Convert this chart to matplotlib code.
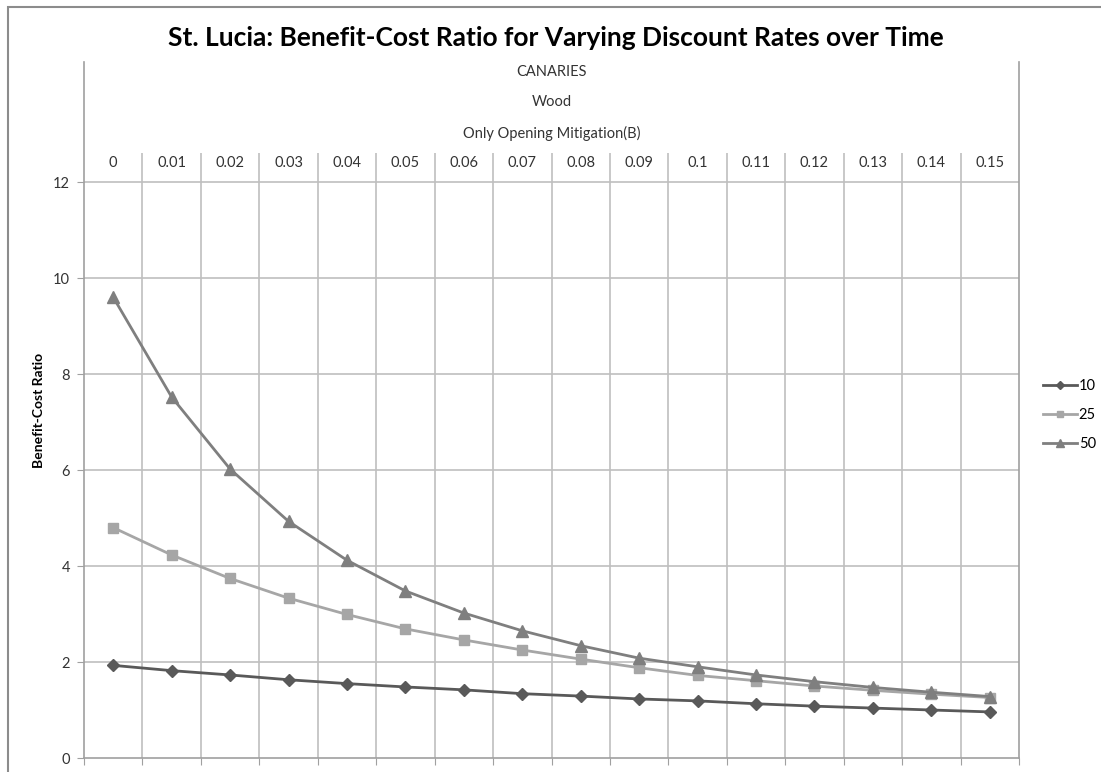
import matplotlib
matplotlib.use("Agg")
import matplotlib.pyplot as plt
from matplotlib.patches import Rectangle
import numpy as np

plt.rcParams['font.family'] = ['Lato', 'DejaVu Sans']

# discount rates (categories) and benefit-cost ratios per time horizon (years)
rates = ["0", "0.01", "0.02", "0.03", "0.04", "0.05", "0.06", "0.07",
         "0.08", "0.09", "0.1", "0.11", "0.12", "0.13", "0.14", "0.15"]
bcr_10 = [1.93, 1.82, 1.73, 1.63, 1.55, 1.48, 1.42, 1.34,
          1.29, 1.23, 1.19, 1.13, 1.08, 1.04, 1.00, 0.96]
bcr_25 = [4.80, 4.23, 3.74, 3.33, 2.99, 2.69, 2.46, 2.25,
          2.06, 1.88, 1.72, 1.61, 1.50, 1.41, 1.33, 1.26]
bcr_50 = [9.60, 7.52, 6.02, 4.93, 4.12, 3.48, 3.02, 2.65,
          2.34, 2.08, 1.90, 1.73, 1.59, 1.47, 1.37, 1.28]
series = [("10", bcr_10, "#595959", "D", 6.0),
          ("25", bcr_25, "#A6A6A6", "s", 7.0),
          ("50", bcr_50, "#7F7F7F", "^", 8.0)]
header_lines = ["CANARIES", "Wood", "Only Opening Mitigation(B)"]

W, H = 1101, 772
fig = plt.figure(figsize=(W / 100, H / 100), dpi=100)
fig.patches.append(Rectangle((8 / W, -0.1), 1.2, 1 - 7 / H + 0.1,
                             transform=fig.transFigure, fill=False,
                             edgecolor="#8C8C8C", linewidth=1.5))

x0, x1, ytop, ybot = 84, 1019, 62, 758
ax = fig.add_axes([x0 / W, 1 - ybot / H, (x1 - x0) / W, (ybot - ytop) / H])
n = len(rates)
ymax = 14.5
ax.set_xlim(0, n)
ax.set_ylim(0, ymax)

grid_c = "#BFBFBF"
ax.hlines(np.arange(2, 13, 2), 0, n, color=grid_c, lw=1.2, zorder=1)
ax.vlines(np.arange(1, n), 0, 12.6, color=grid_c, lw=1.2, zorder=1)

for s in ["left", "right", "bottom"]:
    ax.spines[s].set_color("#A0A0A0")
    ax.spines[s].set_linewidth(1.2)
ax.spines["top"].set_visible(False)

fs = 10.5
ax.set_yticks(np.arange(0, 13, 2))
ax.set_xticks(np.arange(0, n + 1))
ax.set_xticklabels([])
ax.tick_params(axis="both", direction="out", length=5, color="#A0A0A0",
               labelsize=fs, labelcolor="#333333")
ax.tick_params(axis="y", pad=5)

xs = np.arange(n) + 0.5
for i, lab in enumerate(rates):
    ax.text(xs[i], 12.4, lab, ha="center", va="center", fontsize=fs,
            color="#333333")
for k, t in enumerate(header_lines):
    ax.text(n / 2, [14.29, 13.66, 13.02][k], t, ha="center", va="center",
            fontsize=fs, color="#333333")

handles = []
for lab, vals, col, mk, ms in series:
    h, = ax.plot(xs, vals, color=col, lw=2, marker=mk, markersize=ms,
                 markeredgecolor=col, label=lab, zorder=3, clip_on=False)
    handles.append(h)

ax.set_ylabel("Benefit-Cost Ratio", fontsize=10, fontweight="bold",
              labelpad=6)
fig.text(0.505, 1 - 38 / H, "St. Lucia: Benefit-Cost Ratio for Varying Discount Rates over Time",
         ha="center", va="center", fontsize=19, fontweight="bold")

fig.legend(handles=handles, loc="center left",
           bbox_to_anchor=(1043 / W, 1 - 415 / H), frameon=False,
           borderpad=0, borderaxespad=0,
           fontsize=fs, handlelength=2.3, handletextpad=0.15,
           labelspacing=1.05, markerscale=0.7)

fig.savefig("out.png", dpi=100)
